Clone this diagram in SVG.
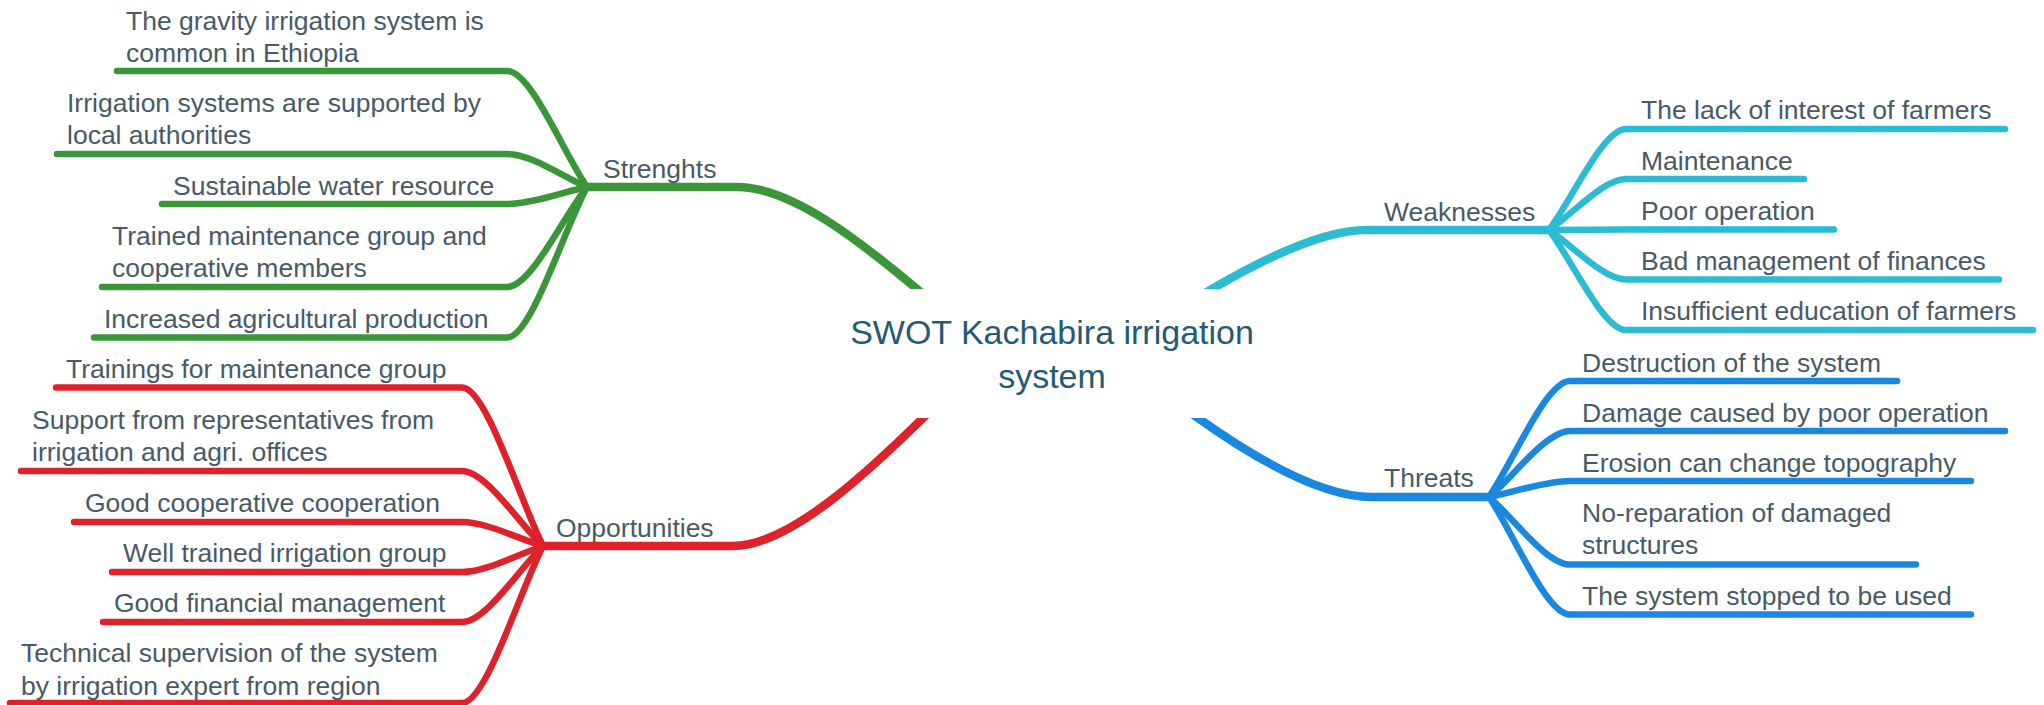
<svg xmlns="http://www.w3.org/2000/svg" width="2044" height="705" viewBox="0 0 2044 705">
<style>
.t{font-family:"Liberation Sans",Arial,Helvetica,sans-serif;font-size:26.5px;fill:#475a67}
.title{font-family:"Liberation Sans",Arial,Helvetica,sans-serif;font-size:34px;fill:#235b73}
.leaf{fill:none;stroke-width:6.5;stroke-linecap:round;stroke-linejoin:round}
.main{fill:none;stroke-width:8.5;stroke-linecap:butt;stroke-linejoin:round}
.g{stroke:#3b9639}.r{stroke:#de2229}.c{stroke:#2bbcd3}.b{stroke:#1a88de}
</style>
<rect width="2044" height="705" fill="#ffffff"/>
<g id="connectors">
  <path class="main g" d="M587,187 H737 C792,187 862,243 917,289 L960,325"/>
  <path class="main r" d="M543,546 H733 C790,546 870,470 923,418 L955,388"/>
  <path class="main c" d="M1549,230 H1367 C1320,230 1258,262 1212,289 L1170,314"/>
  <path class="main b" d="M1489,497 H1372 C1320,497 1250,455 1198,418 L1165,395"/>
  <path class="leaf g" d="M117,71 H507 C531,71 563,152 587,187"/>
  <path class="leaf g" d="M57,154 H507 C531,154 563,177 587,187"/>
  <path class="leaf g" d="M162,204 H507 C531,204 563,192 587,187"/>
  <path class="leaf g" d="M102,287 H507 C531,287 563,217 587,187"/>
  <path class="leaf g" d="M94,337.5 H507 C531,337.5 563,232 587,187"/>
  <path class="leaf r" d="M56,387.5 H462 C486,387.5 519,498 543,546"/>
  <path class="leaf r" d="M21,471 H462 C486,471 519,523.5 543,546"/>
  <path class="leaf r" d="M74,522 H462 C486,522 519,539 543,546"/>
  <path class="leaf r" d="M112,572 H462 C486,572 519,554 543,546"/>
  <path class="leaf r" d="M103,622 H462 C486,622 519,569 543,546"/>
  <path class="leaf r" d="M10,703 H462 C486,703 519,593 543,546"/>
  <path class="leaf c" d="M1549,230 C1572,199.7 1603,129 1626,129 H2005"/>
  <path class="leaf c" d="M1549,230 C1572,214.7 1603,179 1626,179 H1804"/>
  <path class="leaf c" d="M1549,230 C1572,230 1603,229.5 1626,229.5 H1834"/>
  <path class="leaf c" d="M1549,230 C1572,244.9 1603,279.5 1626,279.5 H1999"/>
  <path class="leaf c" d="M1549,230 C1572,260 1603,330 1626,330 H2033"/>
  <path class="leaf b" d="M1489,497 C1513,462.2 1546,381 1570,381 H1897"/>
  <path class="leaf b" d="M1489,497 C1513,477.2 1546,431 1570,431 H2005"/>
  <path class="leaf b" d="M1489,497 C1513,492.2 1546,481 1570,481 H1971"/>
  <path class="leaf b" d="M1489,497 C1513,517.2 1546,564.5 1570,564.5 H1916"/>
  <path class="leaf b" d="M1489,497 C1513,532.2 1546,614.5 1570,614.5 H1971"/>
</g>
<g id="center">
  <rect x="870" y="289" width="390" height="129" fill="#ffffff"/>
  <text class="title" text-anchor="middle"><tspan x="1052" y="343.5">SWOT Kachabira irrigation</tspan><tspan x="1052" y="387.5">system</tspan></text>
</g>
<g id="strengths"><text class="t" x="603" y="178">Strenghts</text></g>
<g id="s1"><text class="t"><tspan x="126" y="29.5">The gravity irrigation system is</tspan><tspan x="126" y="62">common in Ethiopia</tspan></text></g>
<g id="s2"><text class="t"><tspan x="67" y="112">Irrigation systems are supported by</tspan><tspan x="67" y="144">local authorities</tspan></text></g>
<g id="s3"><text class="t" x="173" y="194.5">Sustainable water resource</text></g>
<g id="s4"><text class="t"><tspan x="112" y="245">Trained maintenance group and</tspan><tspan x="112" y="277">cooperative members</tspan></text></g>
<g id="s5"><text class="t" x="104" y="328">Increased agricultural production</text></g>
<g id="opportunities"><text class="t" x="556" y="537">Opportunities</text></g>
<g id="o1"><text class="t" x="66" y="378">Trainings for maintenance group</text></g>
<g id="o2"><text class="t"><tspan x="32" y="429">Support from representatives from</tspan><tspan x="32" y="461">irrigation and agri. offices</tspan></text></g>
<g id="o3"><text class="t" x="85" y="512">Good cooperative cooperation</text></g>
<g id="o4"><text class="t" x="123" y="562">Well trained irrigation group</text></g>
<g id="o5"><text class="t" x="114" y="612">Good financial management</text></g>
<g id="o6"><text class="t"><tspan x="21" y="662">Technical supervision of the system</tspan><tspan x="21" y="695">by irrigation expert from region</tspan></text></g>
<g id="weaknesses"><text class="t" x="1384" y="221">Weaknesses</text></g>
<g id="w1"><text class="t" x="1641" y="119">The lack of interest of farmers</text></g>
<g id="w2"><text class="t" x="1641" y="170">Maintenance</text></g>
<g id="w3"><text class="t" x="1641" y="220">Poor operation</text></g>
<g id="w4"><text class="t" x="1641" y="270">Bad management of finances</text></g>
<g id="w5"><text class="t" x="1641" y="320">Insufficient education of farmers</text></g>
<g id="threats"><text class="t" x="1384" y="487">Threats</text></g>
<g id="t1"><text class="t" x="1582" y="371.5">Destruction of the system</text></g>
<g id="t2"><text class="t" x="1582" y="421.5">Damage caused by poor operation</text></g>
<g id="t3"><text class="t" x="1582" y="471.5">Erosion can change topography</text></g>
<g id="t4"><text class="t"><tspan x="1582" y="521.5">No-reparation of damaged</tspan><tspan x="1582" y="554">structures</tspan></text></g>
<g id="t5"><text class="t" x="1582" y="605">The system stopped to be used</text></g>
</svg>
